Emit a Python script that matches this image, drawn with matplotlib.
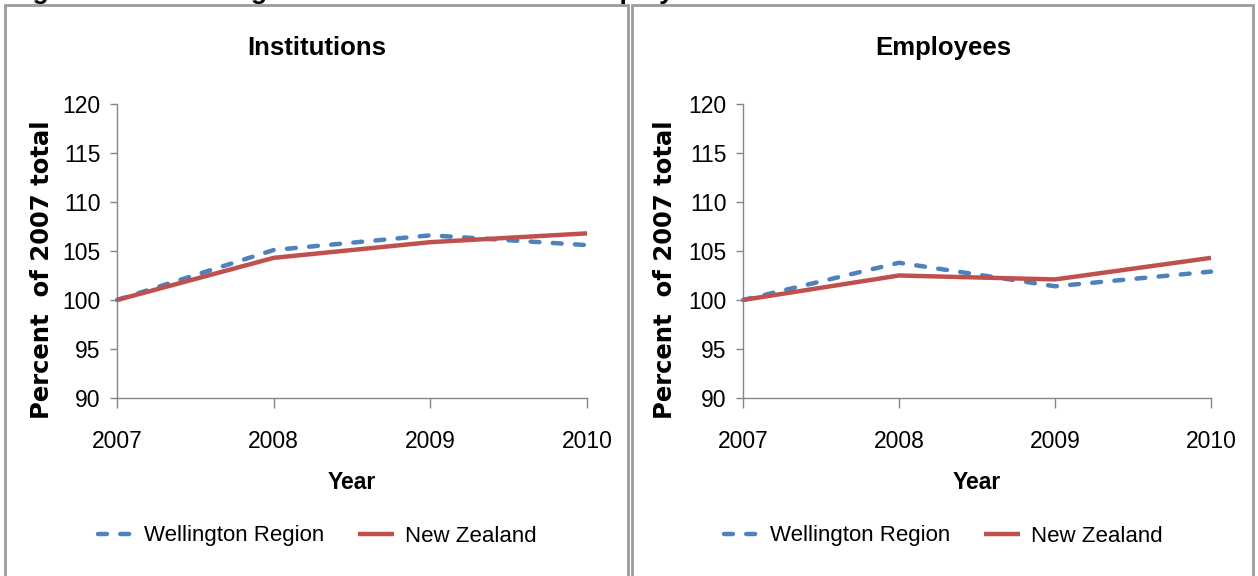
import matplotlib
matplotlib.use("Agg")
import matplotlib.pyplot as plt
from matplotlib.patches import Rectangle

NARROW = ["Liberation Sans", "DejaVu Sans"]

years = [2007, 2008, 2009, 2010]
year_labels = ["2007", "2008", "2009", "2010"]

# percent of 2007 total
inst_wellington = [100.0, 105.1, 106.6, 105.6]
inst_nz = [100.0, 104.3, 105.9, 106.8]
emp_wellington = [100.0, 103.8, 101.4, 102.9]
emp_nz = [100.0, 102.5, 102.1, 104.3]

panel_titles = ["Institutions", "Employees"]
series_names = ["Wellington Region", "New Zealand"]
yticks = [90, 95, 100, 105, 110, 115, 120]

BLUE = "#4F81BD"
RED = "#C0504D"
GREY = "#868686"

W, H = 1258, 576
fig = plt.figure(figsize=(W / 100, H / 100), dpi=100)

# caption above the panels, cut off by the top edge in the source (only descenders show)
fig.text(9 / W, 1 + 1.5 / H, "Figure 14: Relative growth in institutions and employees",
         fontsize=19, fontweight="bold", family="Liberation Sans", va="baseline")

# panel frames
for x0, x1 in [(5, 628), (632, 1253)]:
    fig.patches.append(Rectangle((x0 / W, -0.05), (x1 - x0) / W, 1.05 - 5 / H,
                                 transform=fig.transFigure, fill=False,
                                 edgecolor="#9c9c9c", lw=2))

panels = [
    (117, 587, 317, inst_wellington, inst_nz, -0.160),
    (743, 1211, 943, emp_wellington, emp_nz, -0.167),
]

for i, (ax0, ax1, cx, wel, nz, ylx) in enumerate(panels):
    ax = fig.add_axes([ax0 / W, 1 - 398 / H, (ax1 - ax0) / W, 294 / H])
    ax.plot(years, wel, color=BLUE, lw=3.2, dashes=(2.0, 3.0),
            dash_capstyle="round", label=series_names[0])
    ax.plot(years, nz, color=RED, lw=3.2, solid_capstyle="butt",
            label=series_names[1])
    ax.set_xlim(2007, 2010)
    ax.set_ylim(90, 120)
    ax.set_yticks(yticks)
    ax.set_xticks(years)
    ax.set_xticklabels(year_labels)
    for s in ["top", "right"]:
        ax.spines[s].set_visible(False)
    for s in ["left", "bottom"]:
        ax.spines[s].set_color(GREY)
        ax.spines[s].set_linewidth(1)
    ax.spines["left"].set_zorder(0)
    ax.tick_params(axis="y", direction="out", length=5, width=1, color=GREY, pad=7)
    ax.tick_params(axis="x", direction="out", length=7, width=1, color=GREY, pad=16)
    for lab in ax.get_xticklabels() + ax.get_yticklabels():
        lab.set_family(NARROW)
        lab.set_fontsize(16.5)
    ax.set_ylabel("Percent  of 2007 total", fontsize=17.5, fontweight="bold",
                  family="DejaVu Sans", va="center")
    ax.yaxis.set_label_coords(ylx, 0.435)
    ax.set_xlabel("Year", fontsize=16.5, fontweight="bold", family=NARROW, va="center")
    ax.xaxis.set_label_coords(0.5, -0.286)
    for ln in ax.lines:
        ln.set_clip_on(False)

    fig.text(cx / W, 1 - 48 / H, panel_titles[i], fontsize=18.5, fontweight="bold",
             family=NARROW, ha="center", va="center")

    fig.legend(handles=ax.lines, loc="center",
               bbox_to_anchor=(cx / W, 1 - 536 / H), ncol=2,
               frameon=False, prop={"family": NARROW, "size": 16},
               handlelength=1.6, handletextpad=0.5, columnspacing=1.5)

fig.savefig("out.png", dpi=100)
